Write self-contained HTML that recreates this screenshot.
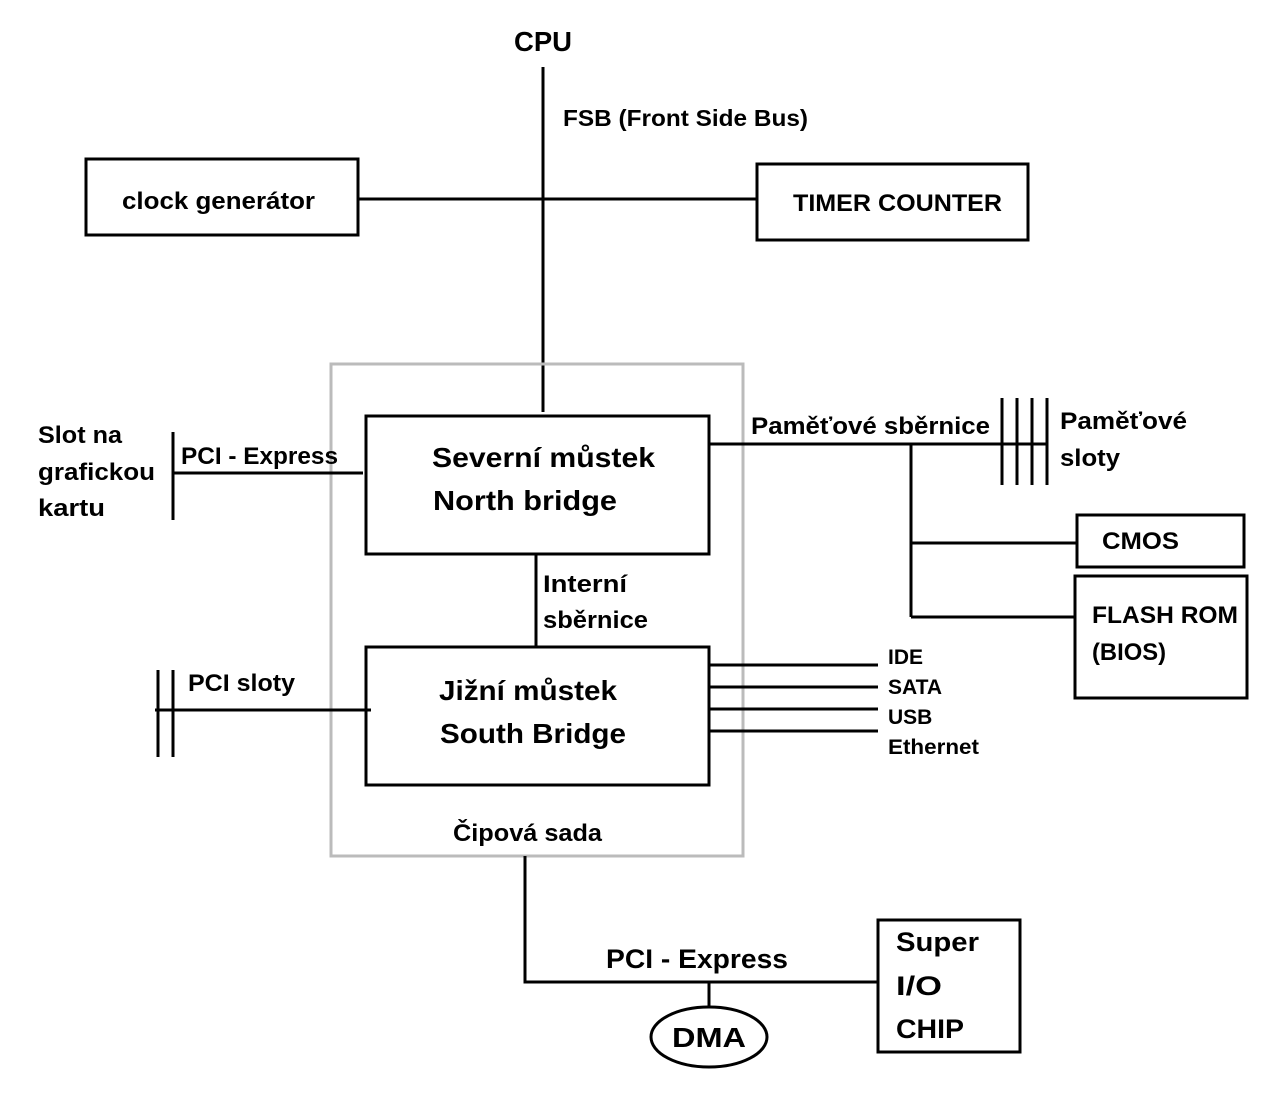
<!DOCTYPE html>
<html><head><meta charset="utf-8"><style>
html,body{margin:0;padding:0;background:#fff;}
svg{display:block;}
text{font-family:"Liberation Sans",sans-serif;font-weight:bold;fill:#000;}
</style></head><body>
<svg width="1281" height="1104" viewBox="0 0 1281 1104" xmlns="http://www.w3.org/2000/svg">
<g stroke="#000" stroke-width="3" fill="none">
<line x1="543" y1="67" x2="543" y2="412"/>
<rect x="86" y="159" width="272" height="76"/>
<line x1="358" y1="199" x2="757" y2="199"/>
<rect x="757" y="164" width="271" height="76"/>
<rect x="331" y="364" width="412" height="492" stroke="#bbb"/>
<rect x="366" y="416" width="343" height="138"/>
<line x1="536" y1="554" x2="536" y2="647"/>
<rect x="366" y="647" width="343" height="138"/>
<polyline points="525,856 525,982 878,982"/>
<line x1="709" y1="982" x2="709" y2="1007"/>
<ellipse cx="709" cy="1037" rx="58" ry="30"/>
<rect x="878" y="920" width="142" height="132"/>
<line x1="173" y1="432" x2="173" y2="520"/>
<line x1="173" y1="473" x2="363" y2="473"/>
<line x1="158" y1="670" x2="158" y2="757"/>
<line x1="173" y1="670" x2="173" y2="757"/>
<line x1="155" y1="710" x2="371" y2="710"/>
<line x1="709" y1="444" x2="1048" y2="444"/>
<line x1="1002" y1="398" x2="1002" y2="485"/>
<line x1="1017" y1="398" x2="1017" y2="485"/>
<line x1="1032" y1="398" x2="1032" y2="485"/>
<line x1="1047" y1="398" x2="1047" y2="485"/>
<line x1="911" y1="444" x2="911" y2="617"/>
<line x1="911" y1="543" x2="1077" y2="543"/>
<line x1="911" y1="617" x2="1075" y2="617"/>
<rect x="1077" y="515" width="167" height="52"/>
<rect x="1075" y="576" width="172" height="122"/>
<line x1="709" y1="665" x2="878" y2="665"/>
<line x1="709" y1="687" x2="878" y2="687"/>
<line x1="709" y1="709" x2="878" y2="709"/>
<line x1="709" y1="731" x2="878" y2="731"/>
</g>
<text x="514" y="51" font-size="28" textLength="58" lengthAdjust="spacingAndGlyphs">CPU</text>
<text x="563" y="126" font-size="23" textLength="245" lengthAdjust="spacingAndGlyphs">FSB (Front Side Bus)</text>
<text x="122" y="209" font-size="24" textLength="193" lengthAdjust="spacingAndGlyphs">clock generátor</text>
<text x="793" y="211" font-size="24" textLength="209" lengthAdjust="spacingAndGlyphs">TIMER COUNTER</text>
<text x="432" y="467" font-size="28" textLength="223" lengthAdjust="spacingAndGlyphs">Severní můstek</text>
<text x="433" y="510" font-size="28" textLength="184" lengthAdjust="spacingAndGlyphs">North bridge</text>
<text x="543" y="592" font-size="24" textLength="84" lengthAdjust="spacingAndGlyphs">Interní</text>
<text x="543" y="628" font-size="24" textLength="105" lengthAdjust="spacingAndGlyphs">sběrnice</text>
<text x="439" y="700" font-size="28" textLength="178" lengthAdjust="spacingAndGlyphs">Jižní můstek</text>
<text x="440" y="743" font-size="28" textLength="186" lengthAdjust="spacingAndGlyphs">South Bridge</text>
<text x="453" y="841" font-size="24" textLength="149" lengthAdjust="spacingAndGlyphs">Čipová sada</text>
<text x="606" y="968" font-size="27" textLength="182" lengthAdjust="spacingAndGlyphs">PCI - Express</text>
<text x="672" y="1047" font-size="28" textLength="74" lengthAdjust="spacingAndGlyphs">DMA</text>
<text x="896" y="951" font-size="27" textLength="83" lengthAdjust="spacingAndGlyphs">Super</text>
<text x="896" y="995" font-size="27" textLength="46" lengthAdjust="spacingAndGlyphs">I/O</text>
<text x="896" y="1038" font-size="27" textLength="68" lengthAdjust="spacingAndGlyphs">CHIP</text>
<text x="38" y="443" font-size="24" textLength="84" lengthAdjust="spacingAndGlyphs">Slot na</text>
<text x="38" y="480" font-size="24" textLength="117" lengthAdjust="spacingAndGlyphs">grafickou</text>
<text x="38" y="516" font-size="24" textLength="67" lengthAdjust="spacingAndGlyphs">kartu</text>
<text x="181" y="464" font-size="24" textLength="157" lengthAdjust="spacingAndGlyphs">PCI - Express</text>
<text x="188" y="691" font-size="24" textLength="107" lengthAdjust="spacingAndGlyphs">PCI sloty</text>
<text x="751" y="434" font-size="24" textLength="239" lengthAdjust="spacingAndGlyphs">Paměťové sběrnice</text>
<text x="1060" y="429" font-size="24" textLength="127" lengthAdjust="spacingAndGlyphs">Paměťové</text>
<text x="1060" y="466" font-size="24" textLength="60" lengthAdjust="spacingAndGlyphs">sloty</text>
<text x="1102" y="549" font-size="24" textLength="77" lengthAdjust="spacingAndGlyphs">CMOS</text>
<text x="1092" y="623" font-size="24" textLength="146" lengthAdjust="spacingAndGlyphs">FLASH ROM</text>
<text x="1092" y="660" font-size="24" textLength="74" lengthAdjust="spacingAndGlyphs">(BIOS)</text>
<text x="888" y="664" font-size="21">IDE</text>
<text x="888" y="694" font-size="21">SATA</text>
<text x="888" y="724" font-size="21">USB</text>
<text x="888" y="754" font-size="21" textLength="91" lengthAdjust="spacingAndGlyphs">Ethernet</text>
</svg>
</body></html>
